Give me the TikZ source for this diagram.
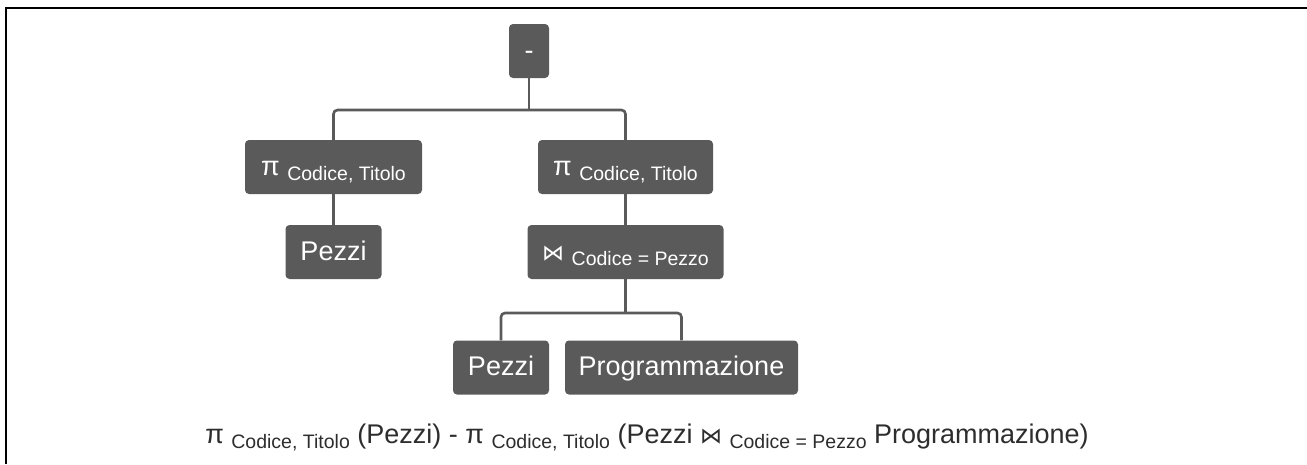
\documentclass[tikz,border=0pt]{standalone}
\usepackage{fontspec}
\setmainfont{Liberation Sans}
\newfontfamily\joinfont{DejaVu Sans}
\usetikzlibrary{positioning}

\definecolor{boxgray}{RGB}{90,90,90}
\definecolor{exprgray}{RGB}{45,45,45}
\newcommand{\lowsub}[1]{\raisebox{-5pt}{\fontsize{19.5}{22}\selectfont #1}}
\newcommand{\joinsym}{{\joinfont\fontsize{22}{24}\selectfont ⋈}}

\tikzset{
  relbox/.style={fill=boxgray, text=white, rounded corners=4pt,
    minimum height=54pt, inner xsep=0pt,
    text height=20pt, text depth=4pt, font=\fontsize{27}{30}\selectfont},
  treeline/.style={draw=boxgray, line width=2.6pt, rounded corners=4pt},
}

\begin{document}
\begin{tikzpicture}[x=1pt, y=-1pt]
  \useasboundingbox (0,0) rectangle (1307,464);
  \draw[line width=1.5pt] (6,464) -- (6,8) -- (1307,8);

  % operator tree
  \node[relbox, minimum width=40pt] (diff) at (529,51) {-};
  \node[relbox, minimum width=177pt] (projl) at (333.5,167) {π \lowsub{Codice, Titolo}};
  \node[relbox, minimum width=175pt] (projr) at (625.5,167) {π \lowsub{Codice, Titolo}};
  \node[relbox, minimum width=96pt] (pezzil) at (333.5,252) {Pezzi};
  \node[relbox, minimum width=196pt] (join) at (625.5,252) {\joinsym\ \lowsub{Codice = Pezzo}};
  \node[relbox, minimum width=96pt] (pezzir) at (501,367.5) {Pezzi};
  \node[relbox, minimum width=233pt] (progr) at (681.5,367.5) {Programmazione};

  \coordinate (diffbar) at (529,110);
  \coordinate (joinbar) at (625.5,313);
  \draw[treeline] (diff) -- (diffbar);
  \draw[treeline] (projl) |- (diffbar) -| (projr);
  \draw[treeline] (projl) -- (pezzil);
  \draw[treeline] (projr) -- (join);
  \draw[treeline] (join) -- (joinbar);
  \draw[treeline] (pezzir) |- (joinbar) -| (progr);

  % linear form
  \node[anchor=base, text=exprgray, font=\fontsize{27}{30}\selectfont] (expr) at (647,443)
    {π \lowsub{Codice, Titolo} (Pezzi) - π \lowsub{Codice, Titolo} (Pezzi \joinsym\ \lowsub{Codice = Pezzo} Programmazione)};
\end{tikzpicture}
\end{document}
